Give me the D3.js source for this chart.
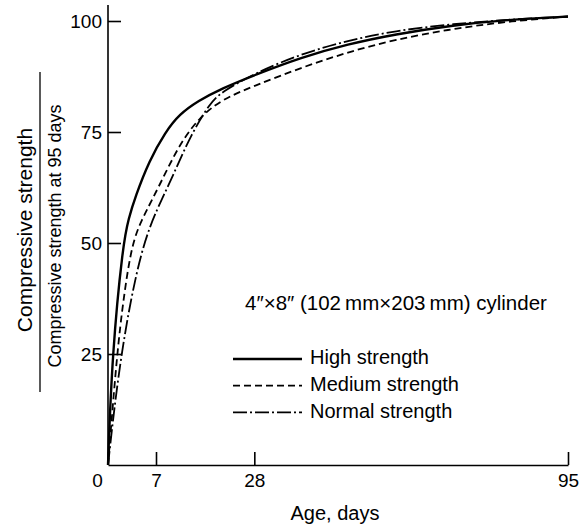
<!DOCTYPE html>
<html>
<head>
<meta charset="utf-8">
<script src="https://cdn.jsdelivr.net/npm/d3@7"></script>
<style>
  body { margin: 0; background: #fff; }
  svg { display: block; font-family: "Liberation Sans", Arial, sans-serif; }
</style>
</head>
<body>
<svg id="chart" width="588" height="531"></svg>
<script>
// Curve data (age in days, % of 95 day strength)
const highDays = [0, 0.6, 2.2, 3, 4, 6, 9, 12, 16, 21, 28, 38, 48, 58, 70, 82, 95];
const highValues = [0, 25, 50, 55.5, 60.5, 68.5, 75, 79, 82, 84.8, 87.8, 91.8, 94.8, 97, 99, 100.3, 101];

const mediumDays = [0, 1.3, 2.3, 3.5, 5, 6.4, 9.3, 12.5, 16.4, 21, 28, 38, 48, 58, 70, 82, 95];
const mediumValues = [0, 25, 38, 50, 55.5, 59.6, 66.4, 73, 78.4, 82.3, 85.4, 89.5, 93, 95.8, 98.2, 99.9, 101];

const normalDays = [0, 1.8, 4.9, 8.5, 11.4, 14.3, 18.5, 21, 28, 38, 48, 58, 70, 82, 95];
const normalValues = [0, 25, 50, 60.4, 67, 74, 81.5, 84, 88.2, 92.6, 95.6, 97.8, 99.3, 100.3, 101];

const xTicks = [0, 7, 28, 95];
const yTicks = [25, 50, 75, 100];
const legendLabels = ["High strength", "Medium strength", "Normal strength"];
const noteText = "4\u2033\u00d78\u2033 (102\u2009mm\u00d7203\u2009mm) cylinder";

// Scales - the printed x axis is squeezed after 7 days, so use a piecewise scale
const x = d3.scaleLinear().domain([0, 7, 95]).range([108, 156, 568]);
const y = d3.scaleLinear().domain([0, 100]).range([465, 21]);

const svg = d3.select("#chart");

// Series with their dash styles
const series = [
  { name: legendLabels[0], days: highDays, values: highValues, dash: null, width: 2.4 },
  { name: legendLabels[1], days: mediumDays, values: mediumValues, dash: "7,4", width: 1.8 },
  { name: legendLabels[2], days: normalDays, values: normalValues, dash: "14,3,2,3", width: 1.8 },
];

////////// Axes //////////

const xAxis = svg
  .append("g")
  .attr("transform", "translate(0," + y(0) + ")")
  .call(d3.axisBottom(x).tickValues(xTicks).tickSizeInner(-13).tickSizeOuter(0).tickPadding(9));

const yAxis = svg
  .append("g")
  .attr("transform", "translate(" + x(0) + ",0)")
  .call(d3.axisLeft(y).tickValues(yTicks).tickSizeInner(-13).tickSizeOuter(0).tickPadding(6));

// y axis runs a bit past 100
yAxis.select(".domain").attr("d", "M0," + y(0) + "V5");

[xAxis, yAxis].forEach((g) => {
  g.selectAll("path, line").attr("stroke", "#000").attr("stroke-width", 1.6);
  g.selectAll("text").attr("font-size", 19).attr("fill", "#000").attr("font-family", null);
});

// origin label sits left of the corner
xAxis.selectAll(".tick text").filter((d) => d === 0).attr("dx", -11);

////////// Curves //////////

// b-spline keeps the bends round like the printed curves
const line = d3
  .line()
  .x((d) => x(d[0]))
  .y((d) => y(d[1]))
  .curve(d3.curveBasis);

svg
  .selectAll(".curve")
  .data(series)
  .enter()
  .append("path")
  .attr("class", "curve")
  .attr("fill", "none")
  .attr("stroke", "#000")
  .attr("stroke-width", (d) => d.width)
  .attr("stroke-dasharray", (d) => d.dash)
  .attr("d", (d) => line(d.days.map((day, i) => [day, d.values[i]])));

////////// Labels //////////

svg
  .append("text")
  .attr("x", 335)
  .attr("y", 515)
  .attr("text-anchor", "middle")
  .attr("dominant-baseline", "middle")
  .attr("font-size", 20)
  .text("Age, days");

// y title as a fraction
const yTitle = svg.append("g").attr("transform", "rotate(-90)");
yTitle
  .append("text")
  .attr("x", -230)
  .attr("y", 26)
  .attr("text-anchor", "middle")
  .attr("dominant-baseline", "middle")
  .attr("font-size", 21)
  .text("Compressive strength");
yTitle
  .append("line")
  .attr("x1", -72)
  .attr("x2", -392)
  .attr("y1", 40)
  .attr("y2", 40)
  .attr("stroke", "#000")
  .attr("stroke-width", 1.3);
yTitle
  .append("text")
  .attr("x", -236)
  .attr("y", 56)
  .attr("text-anchor", "middle")
  .attr("dominant-baseline", "middle")
  .attr("font-size", 18)
  .text("Compressive strength at 95 days");

svg
  .append("text")
  .attr("x", 245)
  .attr("y", 305)
  .attr("dominant-baseline", "middle")
  .attr("font-size", 20.5)
  .text(noteText);

////////// Legend //////////

const legend = svg
  .selectAll(".legend")
  .data(series)
  .enter()
  .append("g")
  .attr("class", "legend")
  .attr("transform", (d, i) => "translate(233," + (359 + i * 26.7) + ")");

legend
  .append("line")
  .attr("x1", 0)
  .attr("x2", 69)
  .attr("stroke", "#000")
  .attr("stroke-width", (d) => d.width)
  .attr("stroke-dasharray", (d) => d.dash);

legend
  .append("text")
  .attr("x", 77)
  .attr("dominant-baseline", "middle")
  .attr("font-size", 20)
  .text((d) => d.name);
</script>
</body>
</html>
